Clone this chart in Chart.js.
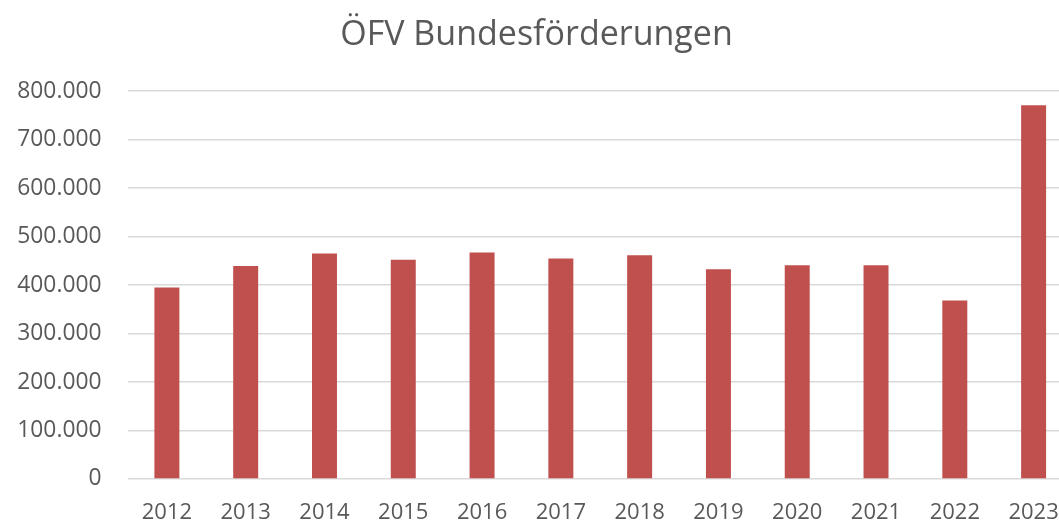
<!DOCTYPE html>
<html>
<head>
<meta charset="utf-8">
<script src="https://cdn.jsdelivr.net/npm/chart.js@4/dist/chart.umd.min.js"></script>
<style>
html,body{margin:0;padding:0;background:#fff;overflow:hidden;width:1059px;height:523px;}
#wrap{position:absolute;left:0;top:0;width:1098px;height:523px;}
</style>
</head>
<body>
<div id="wrap"><canvas id="c" width="1098" height="523"></canvas></div>
<script>
const titleText = "ÖFV Bundesförderungen";
const categories = ["2012","2013","2014","2015","2016","2017","2018","2019","2020","2021","2022","2023"];
const values = [394800, 439500, 465000, 452000, 467000, 455000, 461600, 432700, 441000, 441000, 368000, 771000];
const yTicks = [0, 100000, 200000, 300000, 400000, 500000, 600000, 700000, 800000];

function fmt(v){ return String(v).replace(/\B(?=(\d{3})+(?!\d))/g, "."); }

const FONT = "'Open Sans', sans-serif";
const TXT = "#595959";

new Chart(document.getElementById('c'), {
  type: 'bar',
  data: {
    labels: categories,
    datasets: [{
      data: values,
      backgroundColor: '#C0504D',
      borderWidth: 0,
      barPercentage: 0.317,
      categoryPercentage: 1.0
    }]
  },
  options: {
    responsive: false,
    animation: false,
    devicePixelRatio: 1,
    layout: { padding: { left: 0, right: 25, top: 14.5, bottom: 0 } },
    plugins: {
      legend: { display: false },
      tooltip: { enabled: false },
      title: {
        display: true,
        text: titleText,
        color: TXT,
        font: { family: FONT, size: 34, weight: 'normal' },
        padding: { top: 0, bottom: 35.8 }
      }
    },
    scales: {
      x: {
        grid: { display: false, drawTicks: false },
        border: { display: false },
        ticks: { color: TXT, font: { family: FONT, size: 22 }, padding: 21, maxRotation: 0, autoSkip: false },
        afterFit: (a) => { a.height = 44; }
      },
      y: {
        min: 0,
        max: 800000,
        afterBuildTicks: (a) => { a.ticks = yTicks.map(v => ({ value: v })); },
        grid: { color: '#D9D9D9', lineWidth: 1.6, drawTicks: false },
        border: { display: false },
        ticks: { color: TXT, font: { family: FONT, size: 22.8 }, padding: 26, callback: (v) => fmt(v) },
        afterFit: (a) => { a.width = 127.5; }
      }
    }
  }
});
</script>
</body>
</html>
